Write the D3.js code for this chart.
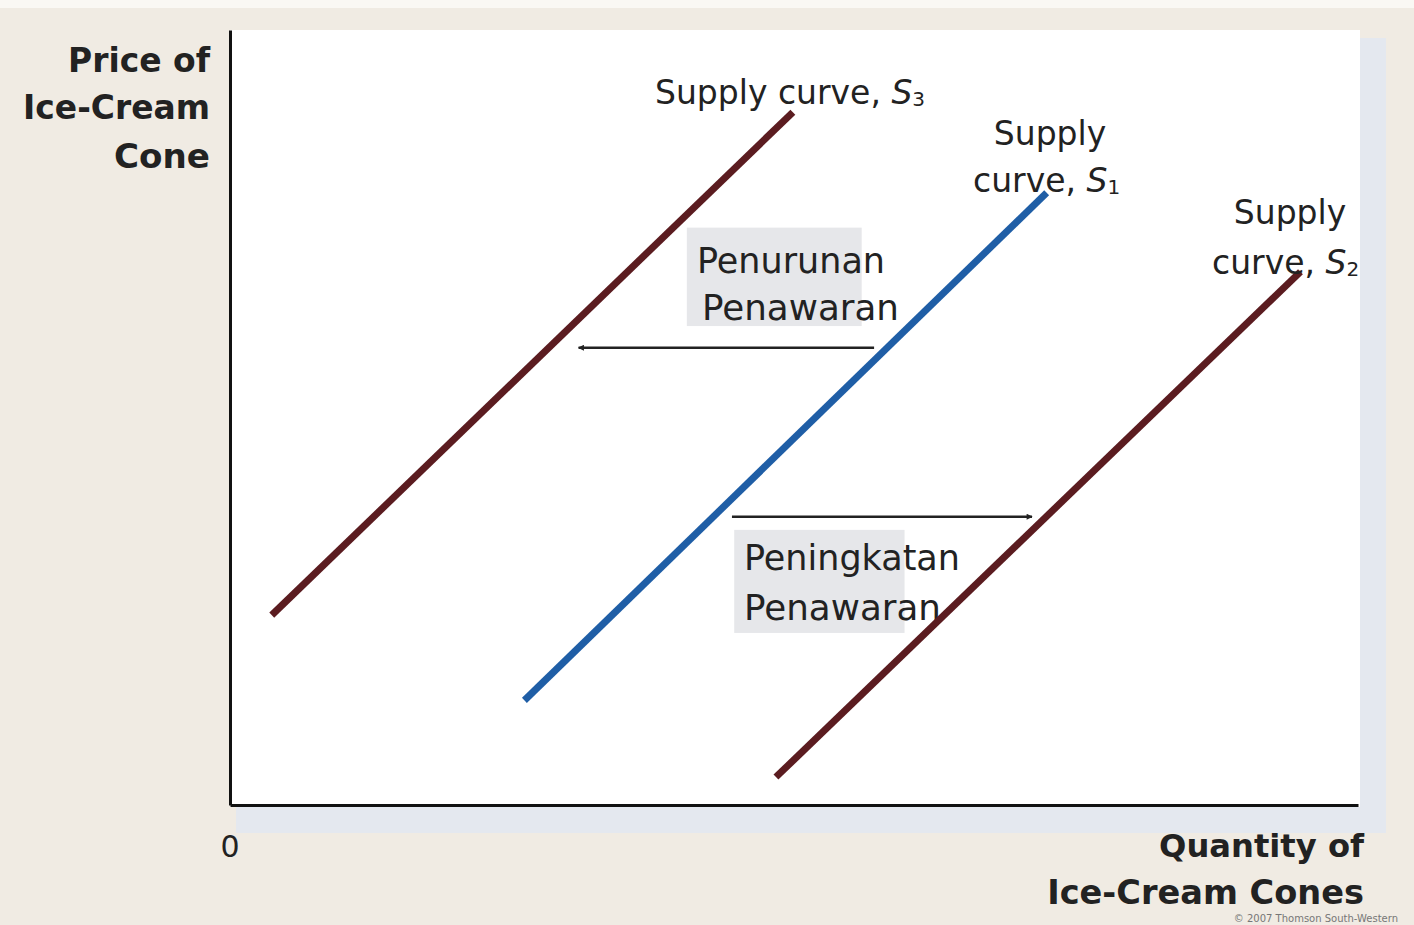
<!DOCTYPE html>
<html><head><meta charset="utf-8">
<script src="https://cdn.jsdelivr.net/npm/d3@7"></script>
<style>body{margin:0;background:#f0ebe3;} svg{display:block;}</style>
</head><body>
<svg id="c" width="1414" height="925"></svg>
<script>
// Data (in abstract units 0-100 on each axis)
const curveNames = ["S3", "S1", "S2"];
const curveX0 = [3.7, 26.1, 48.4];
const curveY0 = [24.5, 13.5, 3.6];
const curveX1 = [49.9, 72.4, 94.9];
const curveY1 = [89.4, 79.0, 68.8];
const curveColors = ["#5b1c20", "#1f5ea6", "#5b1c20"];
const arrowFromX = [57.1, 44.5];
const arrowToX = [30.9, 71.1];
const arrowY = [59.0, 37.2];
const shiftLabels = [["Penurunan", "Penawaran"], ["Peningkatan", "Penawaran"]];

const svg = d3.select("#c");
const W = 1414, H = 925;
const x = d3.scaleLinear().domain([0, 100]).range([230, 1358]);
const y = d3.scaleLinear().domain([0, 100]).range([805, 30]);

const font = "DejaVu Sans, Verdana, sans-serif";

// Background
svg.append("rect").attr("width", W).attr("height", H).attr("fill", "#f0ebe3");
svg.append("rect").attr("x", 0).attr("y", 0).attr("width", W).attr("height", 8).attr("fill", "#faf8f4");
// Shadow of plot panel
svg.append("rect").attr("x", 236).attr("y", 38).attr("width", 1150).attr("height", 795).attr("fill", "#e4e8ef");
svg.append("rect").attr("x", 230).attr("y", 30).attr("width", 1130).attr("height", 777).attr("fill", "#ffffff");

const defs = svg.append("defs");
defs.append("marker").attr("id", "ah").attr("viewBox", "0 0 10 10").attr("refX", 9).attr("refY", 5)
  .attr("markerWidth", 7).attr("markerHeight", 6).attr("markerUnits", "userSpaceOnUse")
  .attr("orient", "auto")
  .append("path").attr("d", "M0,0 L10,5 L0,10 z").attr("fill", "#222");

// shift label boxes
const boxes = [
  {x0: 40.5, x1: 56.0, y0: 74.5, y1: 61.8},
  {x0: 44.7, x1: 59.8, y0: 35.5, y1: 22.2}
];
svg.selectAll("rect.box").data(boxes).join("rect").attr("class", "box")
  .attr("x", d => x(d.x0)).attr("y", d => y(d.y0))
  .attr("width", d => x(d.x1) - x(d.x0)).attr("height", d => y(d.y1) - y(d.y0))
  .attr("fill", "#e6e7ea");

function fit(sel, w) {
  const n = sel.node();
  const cur = n.getComputedTextLength();
  if (cur > 0) sel.attr("font-size", parseFloat(sel.attr("font-size")) * w / cur);
  return sel;
}

function txt(tx, ty, s, opts = {}) {
  const t = svg.append("text").attr("x", tx).attr("y", ty).attr("dominant-baseline", "central")
    .attr("font-family", font).attr("font-size", opts.size || 30)
    .attr("font-weight", opts.weight || "normal").attr("fill", opts.fill || "#222")
    .attr("text-anchor", opts.anchor || "start").text(s);
  if (opts.width) fit(t, opts.width);
  return t;
}

const labelPos = [{x: 697, y1: 261, y2: 307, w1: 188, w2: 197, dx2: 5},
                  {x: 744, y1: 558, y2: 607, w1: 216, w2: 197, dx2: 0}];
shiftLabels.forEach((lines, i) => {
  const p = labelPos[i];
  txt(p.x, p.y1, lines[0], {width: p.w1});
  txt(p.x + p.dx2, p.y2, lines[1], {width: p.w2});
});

// arrows
svg.selectAll("line.arrow").data(arrowY).join("line").attr("class", "arrow")
  .attr("x1", (d, i) => x(arrowFromX[i])).attr("x2", (d, i) => x(arrowToX[i]))
  .attr("y1", d => y(d)).attr("y2", d => y(d))
  .attr("stroke", "#222").attr("stroke-width", 2.5).attr("marker-end", "url(#ah)");

// curves
svg.selectAll("line.curve").data(curveNames).join("line").attr("class", "curve")
  .attr("x1", (d, i) => x(curveX0[i])).attr("y1", (d, i) => y(curveY0[i]))
  .attr("x2", (d, i) => x(curveX1[i])).attr("y2", (d, i) => y(curveY1[i]))
  .attr("stroke", (d, i) => curveColors[i]).attr("stroke-width", 7);

// axes
const xAxis = d3.axisBottom(x).tickValues([]).tickSizeOuter(0);
const yAxis = d3.axisLeft(y).tickValues([]).tickSizeOuter(0);
svg.append("g").attr("transform", "translate(0,805)").call(xAxis)
  .select(".domain").attr("stroke", "#111").attr("stroke-width", 3);
svg.append("g").attr("transform", "translate(230,0)").call(yAxis)
  .select(".domain").attr("stroke", "#111").attr("stroke-width", 3);

// axis titles
const yt = [["Price of", 60, 142], ["Ice-Cream", 107, 187], ["Cone", 156, 96]];
yt.forEach(d => txt(210, d[1], d[0], {size: 30, weight: "bold", anchor: "end", width: d[2]}));
const xt = [["Quantity of", 846, 205], ["Ice-Cream Cones", 892, 317]];
xt.forEach(d => txt(1364, d[1], d[0], {size: 30, weight: "bold", anchor: "end", width: d[2]}));
txt(x(0), 846, "0", {size: 30, anchor: "middle"});

// curve labels
const LS = 33;
function curveLabel(tx, ty, prefix, sub, anchor) {
  const t = svg.append("text").attr("x", tx).attr("y", ty).attr("dominant-baseline", "central")
    .attr("font-family", font).attr("font-size", LS).attr("fill", "#222").attr("text-anchor", anchor);
  t.append("tspan").text(prefix);
  t.append("tspan").attr("font-style", "italic").text("S");
  t.append("tspan").attr("font-size", 20).attr("dy", 7).text(sub);
  return t;
}
curveLabel(655, 92, "Supply curve, ", "3", "start");
txt(1050, 133, "Supply", {anchor: "middle", size: LS});
curveLabel(973, 180, "curve, ", "1", "start");
txt(1290, 212, "Supply", {anchor: "middle", size: LS});
curveLabel(1212, 262, "curve, ", "2", "start");

txt(1398, 918, "© 2007 Thomson South-Western", {size: 10, anchor: "end", fill: "#777"});
</script>
</body></html>
